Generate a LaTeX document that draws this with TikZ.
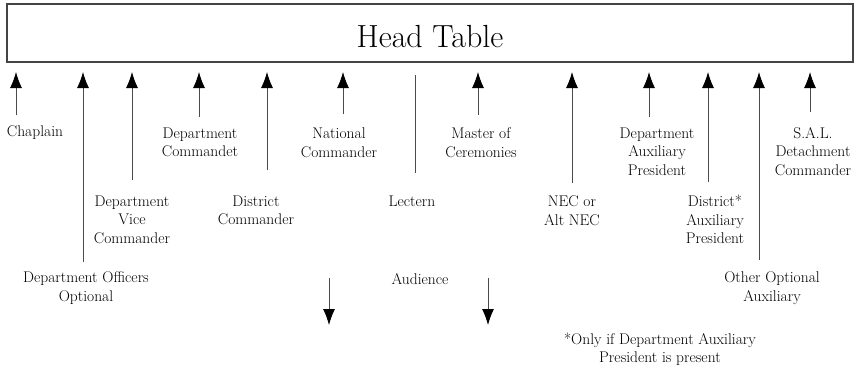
\documentclass[tikz,border=0pt]{standalone}
\usetikzlibrary{arrows.meta}
\definecolor{shaft}{HTML}{4A4A4A}
\definecolor{boxline}{HTML}{444444}
\tikzset{
  lbl/.style={inner sep=0pt, align=center, font=\fontsize{15.5}{18.5}\selectfont, text=black},
  uparr/.style={draw=shaft, line width=0.9pt, -{Latex[length=16pt,width=12pt,color=black]}},
  dnarr/.style={draw=shaft, line width=0.9pt, -{Latex[length=16pt,width=12pt,color=black]}},
  plainline/.style={draw=shaft, line width=0.9pt},
  tablebox/.style={draw=boxline, line width=1.1pt, minimum width=846pt, minimum height=58pt, inner sep=0pt}
}
\begin{document}
\begin{tikzpicture}[x=1pt,y=-1pt]
\useasboundingbox (0,0) rectangle (861,369);
\node[tablebox] (table) at (430,33) {};
\node[anchor=base, inner sep=0pt, font=\fontsize{32}{36}\selectfont, text=black] (title) at (430,48) {Head Table};

% labels
\node[lbl] (chap) at (35,133) {Chaplain};
\node[lbl] (deo) at (86,288) {Department Officers\\Optional};
\node[lbl] (dvc) at (132,219.5) {Department\\Vice\\Commander};
\node[lbl] (dc) at (200,142.5) {Department\\Commandet};
\node[lbl] (dic) at (256,210.5) {District\\Commander};
\node[lbl] (nc) at (339,142.5) {National\\Commander};
\node[lbl] (lec) at (412,201) {Lectern};
\node[lbl] (mc) at (481,142.5) {Master of\\Ceremonies};
\node[lbl] (nec) at (572,210.5) {NEC or\\Alt NEC};
\node[lbl] (dap) at (657,151.5) {Department\\Auxiliary\\President};
\node[lbl] (dap2) at (715,219.5) {District*\\Auxiliary\\President};
\node[lbl] (ooa) at (772,288) {Other Optional\\Auxiliary};
\node[lbl] (sal) at (813,151.5) {S.A.L.\\Detachment\\Commander};
\node[lbl] (aud) at (420,279) {Audience};
\node[lbl] (note) at (660,349) {*Only if Department Auxiliary\\President is present};

% up arrows
\foreach \n/\x/\yb in {a/16/115, b/83/262, c/132/180, d/199/117, e/267/170, f/343/114, g/478/115, h/572/183, i/649/117, j/708/182, k/759/260, l/810/112}{
  \coordinate (s\n) at (\x,\yb);
  \coordinate (t\n) at (\x,72);
  \draw[uparr] (s\n) -- (t\n);
}
% lectern line
\coordinate (lt) at (415,75);
\coordinate (lb) at (415,173);
\draw[plainline] (lt) -- (lb);
% down arrows
\coordinate (d1s) at (329,278);
\coordinate (d1e) at (329,325);
\coordinate (d2s) at (488,278);
\coordinate (d2e) at (488,325);
\draw[dnarr] (d1s) -- (d1e);
\draw[dnarr] (d2s) -- (d2e);
\end{tikzpicture}
\end{document}
